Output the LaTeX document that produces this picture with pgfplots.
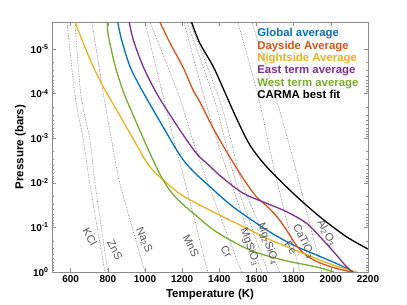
\documentclass[border=0pt]{standalone}
\usepackage{pgfplots}
\pgfplotsset{compat=1.18}
\usepackage{fontspec}
\setmainfont{Liberation Sans}
\usetikzlibrary{calc}
\definecolor{mblue}{rgb}{0,0.447,0.741}
\definecolor{mred}{rgb}{0.85,0.325,0.098}
\definecolor{morange}{rgb}{0.929,0.694,0.125}
\definecolor{mpurple}{rgb}{0.494,0.184,0.556}
\definecolor{mgreen}{rgb}{0.466,0.674,0.188}
\definecolor{condgray}{rgb}{0.45,0.45,0.45}
\definecolor{labgray}{rgb}{0.35,0.35,0.35}
\begin{document}
\begin{tikzpicture}
\begin{axis}[
  scale only axis, width=315.9pt, height=250pt,
  xmin=500, xmax=2200, ymin=2.5e-6, ymax=1,
  ymode=log, y dir=reverse,
  xtick={600,800,1000,1200,1400,1600,1800,2000,2200},
  xticklabels={600,800,1000,1200,1400,1600,1800,2000,2200},
  ytick={1e-5,1e-4,1e-3,1e-2,1e-1,1},
  yticklabels={10\textsuperscript{-5},10\textsuperscript{-4},10\textsuperscript{-3},10\textsuperscript{-2},10\textsuperscript{-1},10\textsuperscript{0}},
  tick align=inside, xtick pos=both, ytick pos=both,
  axis line style={black!45}, every tick/.style={black!45},
  major tick length=4pt, minor tick length=2pt,
  tick label style={font=\fontsize{10}{12}\selectfont\bfseries},
  label style={font=\fontsize{11.5}{13}\selectfont\bfseries},
  xlabel={Temperature (K)}, ylabel={Pressure (bars)},
  ylabel style={yshift=-2pt},
  clip=true,
]
% condensation curves
\addplot[condgray, densely dotted, line width=0.6pt, smooth] coordinates {(580,2.5e-6) (623,1.07e-4) (668,1.10e-3) (704,1.12e-2) (784,1)};
\addplot[condgray, densely dotted, line width=0.6pt, smooth] coordinates {(623,2.5e-6) (655,1.07e-4) (704,1.10e-3) (732,1.12e-2) (800,1)};
\addplot[condgray, densely dotted, line width=0.6pt, smooth] coordinates {(714,2.5e-6) (777,1.07e-4) (820,1.10e-3) (867,1.12e-2) (1000,1)};
\addplot[condgray, densely dotted, line width=0.6pt, smooth] coordinates {(999,2.5e-6) (1096,1.07e-4) (1155,1.10e-3) (1219,1.12e-2) (1338,1)};
\addplot[condgray, densely dotted, line width=0.6pt, smooth] coordinates {(1026,2.5e-6) (1181,1.07e-4) (1257,1.10e-3) (1342,1.12e-2) (1519,1)};
\addplot[condgray, densely dotted, line width=0.6pt, smooth] coordinates {(1209,2.5e-6) (1315,1.07e-4) (1387,1.10e-3) (1467,1.12e-2) (1628,1)};
\addplot[condgray, densely dotted, line width=0.6pt, smooth] coordinates {(1225,2.5e-6) (1365,1.07e-4) (1430,1.10e-3) (1494,1.12e-2) (1661,1)};
\addplot[condgray, densely dotted, line width=0.6pt, smooth] coordinates {(1241,2.5e-6) (1392,1.07e-4) (1462,1.10e-3) (1526,1.12e-2) (1725,1)};
\addplot[condgray, densely dotted, line width=0.6pt, smooth] coordinates {(1500,2.5e-6) (1607,1.07e-4) (1661,1.10e-3) (1715,1.12e-2) (1833,1)};
\addplot[condgray, densely dotted, line width=0.6pt, smooth] coordinates {(1575,2.5e-6) (1699,1.07e-4) (1769,1.10e-3) (1833,1.12e-2) (1952,1)};
% Global average
\addplot[mblue, line width=1.3pt, smooth] coordinates {(853,2.5e-6) (874,6.28e-6) (919,2.49e-5) (973,7.0e-5) (1044,2.33e-4) (1116,7.64e-4) (1170,1.84e-3) (1214,3.42e-3) (1274,6.35e-3) (1349,1.22e-2) (1473,3.44e-2) (1654,0.114) (1797,0.248) (1923,0.416) (2048,0.697) (2119,1.0)};
% Dayside
\addplot[mred, line width=1.3pt, smooth] coordinates {(1080,2.5e-6) (1134,7.33e-6) (1204,2.54e-5) (1258,8.30e-5) (1295,1.54e-4) (1366,5.90e-4) (1440,2.04e-3) (1526,7.80e-3) (1596,1.98e-2) (1661,3.49e-2) (1720,6.49e-2) (1768,0.127) (1817,0.261) (1865,0.416) (1930,0.597) (2021,0.813) (2112,1.0)};
% Nightside
\addplot[morange, line width=1.3pt, smooth] coordinates {(623,2.5e-6) (668,7.45e-6) (721,2.49e-5) (775,7.0e-5) (847,2.33e-4) (919,7.76e-4) (970,1.84e-3) (994,2.78e-3) (1021,4.09e-3) (1053,5.87e-3) (1102,8.87e-3) (1150,1.34e-2) (1205,1.98e-2) (1295,3.15e-2) (1385,4.88e-2) (1474,7.45e-2) (1564,0.114) (1654,0.175) (1833,0.356) (2012,0.697) (2139,1.0)};
% East term
\addplot[mpurple, line width=1.3pt, smooth] coordinates {(915,2.5e-6) (937,6.28e-6) (990,2.49e-5) (1062,9.84e-5) (1152,3.91e-4) (1224,1.10e-3) (1284,2.38e-3) (1348,4.20e-3) (1412,7.41e-3) (1528,1.72e-2) (1654,2.88e-2) (1761,4.45e-2) (1869,8.09e-2) (1958,0.192) (2030,0.416) (2084,0.760) (2119,1.0)};
% West term
\addplot[mgreen, line width=1.3pt, smooth] coordinates {(797,2.5e-6) (802,4.85e-6) (838,2.29e-5) (883,9.06e-5) (928,2.55e-4) (973,6.90e-4) (1016,1.75e-3) (1053,3.78e-3) (1091,7.80e-3) (1128,1.38e-2) (1171,2.25e-2) (1220,3.49e-2) (1274,5.41e-2) (1385,0.127) (1564,0.321) (1741,0.538) (1924,0.773) (2015,1.0)};
% CARMA best fit
\addplot[black, line width=1.3pt, smooth] coordinates {(1250,2.5e-6) (1295,7.45e-6) (1367,2.49e-5) (1424,8.30e-5) (1492,3.58e-4) (1564,1.42e-3) (1654,4.36e-3) (1797,1.72e-2) (1940,5.75e-2) (2084,0.162) (2200,0.305)};
% condensation labels
\begin{scope}[every node/.style={text=labgray, font=\fontsize{11}{12}\selectfont, inner sep=0pt}]
\node[rotate=-62] at (axis cs:704,0.164) {KCl};
\node[rotate=-62] at (axis cs:838,0.321) {ZnS};
\node[rotate=-66] at (axis cs:994,0.192) {Na\textsubscript{2}S};
\node[rotate=-62] at (axis cs:1247,0.261) {MnS};
\node[rotate=-60] at (axis cs:1437,0.35) {Cr};
\node[rotate=-70] at (axis cs:1564,0.275) {MgSiO\textsubscript{3}};
\node[rotate=-70] at (axis cs:1661,0.236) {Mg\textsubscript{2}SiO\textsubscript{4}};
\node[rotate=-55] at (axis cs:1784,0.29) {Fe};
\node[rotate=-64] at (axis cs:1854,0.202) {CaTiO\textsubscript{3}};
\node[rotate=-61] at (axis cs:1977,0.134) {Al\textsubscript{2}O\textsubscript{3}};
\end{scope}
% legend
\node[anchor=north west, inner sep=0pt, align=left, font=\fontsize{11.4}{12.4}\selectfont\bfseries] at (axis description cs:0.649,0.975) {\textcolor{mblue}{Global average}\\\textcolor{mred}{Dayside Average}\\\textcolor{morange}{Nightside Average}\\\textcolor{mpurple}{East term average}\\\textcolor{mgreen}{West term average}\\\textcolor{black}{CARMA best fit}};
\end{axis}
\pgfresetboundingbox
\path ($(current axis.south west)+(-52.1pt,-33pt)$) rectangle ($(current axis.north east)+(39pt,22pt)$);
\end{tikzpicture}
\end{document}
